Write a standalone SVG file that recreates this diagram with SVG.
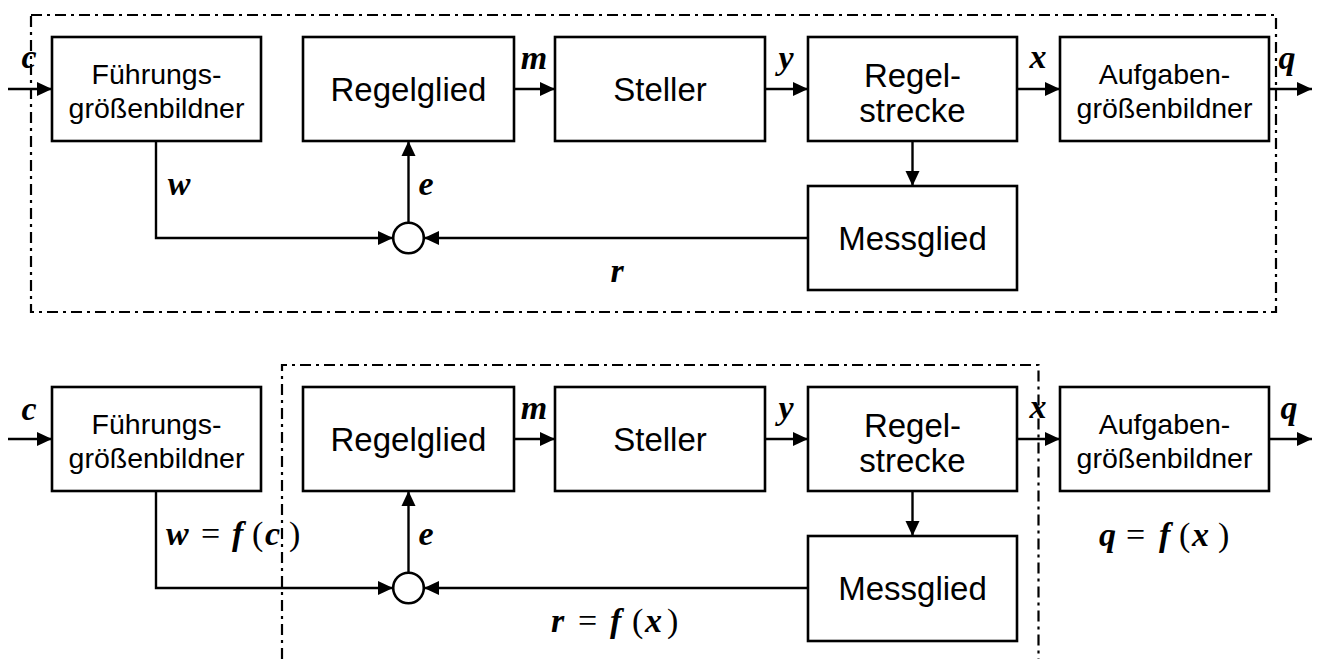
<svg xmlns="http://www.w3.org/2000/svg" width="1318" height="659" viewBox="0 0 1318 659">
<defs>
<style>
.box{fill:#fff;stroke:#000;stroke-width:2.6}
.t{font-family:"Liberation Sans",Arial,sans-serif;fill:#000;text-anchor:middle}
.big{font-size:33px}
.sm{font-size:28.5px}
.ln{fill:none;stroke:#000;stroke-width:2.4}
.arr{marker-end:url(#ah)}
.bd{fill:none;stroke:#000;stroke-width:2.2;stroke-dasharray:11 5 3 5}
.m{font-family:"Liberation Serif","Times New Roman",serif;font-style:italic;font-weight:bold;font-size:34px;fill:#000;text-anchor:middle}
.f{text-anchor:start}
.up{font-style:normal;font-weight:normal}
.sum{fill:#fff;stroke:#000;stroke-width:2.6}
</style>
<marker id="ah" markerUnits="userSpaceOnUse" markerWidth="16" markerHeight="15" refX="15" refY="7" orient="auto" viewBox="0 0 16 14">
<path d="M0,0 L15,7 L0,14 z" fill="#000"/>
</marker>
</defs>
<rect width="1318" height="659" fill="#fff"/>

<g id="borders">
<rect class="bd" x="31" y="15" width="1245" height="297"/>
<path class="bd" d="M282,659 V365 H1038.5 V659"/>
</g>

<g id="connectors">
<path class="ln arr" d="M8,89 H52"/>
<path class="ln arr" d="M514,89 H555"/>
<path class="ln arr" d="M765,89 H808"/>
<path class="ln arr" d="M1017,89 H1060"/>
<path class="ln arr" d="M1269,89 H1312"/>
<path class="ln arr" d="M156,141 V238 H393"/>
<path class="ln arr" d="M408.5,222.7 V141"/>
<path class="ln arr" d="M912.5,141 V186"/>
<path class="ln arr" d="M808,238 H424"/>
<path class="ln arr" d="M8,439 H52"/>
<path class="ln arr" d="M514,439 H555"/>
<path class="ln arr" d="M765,439 H808"/>
<path class="ln arr" d="M1017,439 H1060"/>
<path class="ln arr" d="M1269,439 H1312"/>
<path class="ln arr" d="M156,491 V588 H393"/>
<path class="ln arr" d="M408.5,572.7 V491"/>
<path class="ln arr" d="M912.5,491 V536"/>
<path class="ln arr" d="M808,588 H424"/>
</g>

<g id="labels">
<text class="m" x="29" y="68">c</text>
<text class="m" x="534" y="69">m</text>
<text class="m" x="786" y="69">y</text>
<text class="m" x="1038" y="68">x</text>
<text class="m" x="1287" y="69">q</text>
<text class="m" x="179" y="195">w</text>
<text class="m" x="426" y="195">e</text>
<text class="m" x="617" y="282">r</text>

<text class="m" x="29" y="420">c</text>
<text class="m" x="534" y="419">m</text>
<text class="m" x="786" y="419">y</text>
<text class="m" x="1038" y="418">x</text>
<text class="m" x="1289" y="419">q</text>
<text class="m f" y="545"><tspan x="166">w</tspan><tspan class="up" x="201">=</tspan><tspan x="232">f</tspan><tspan class="up" x="252">(</tspan><tspan x="265">c</tspan><tspan class="up" x="289">)</tspan></text>
<text class="m" x="426" y="545">e</text>
<text class="m f" y="632"><tspan x="551">r</tspan><tspan class="up" x="578">=</tspan><tspan x="610">f</tspan><tspan class="up" x="632">(</tspan><tspan x="645">x</tspan><tspan class="up" x="667">)</tspan></text>
<text class="m f" y="546"><tspan x="1099">q</tspan><tspan class="up" x="1126">=</tspan><tspan x="1159">f</tspan><tspan class="up" x="1179">(</tspan><tspan x="1192">x</tspan><tspan class="up" x="1218">)</tspan></text>
</g>

<g id="fuehrung1"><rect class="box" x="52" y="37" width="209" height="104"/>
<text class="t sm" x="156.5" y="84">Führungs-</text><text class="t sm" x="156.5" y="118">größenbildner</text></g>
<g id="regelglied1"><rect class="box" x="303" y="37" width="211" height="104"/>
<text class="t big" x="408.5" y="101">Regelglied</text></g>
<g id="steller1"><rect class="box" x="555" y="37" width="210" height="104"/>
<text class="t big" x="660" y="101">Steller</text></g>
<g id="regelstrecke1"><rect class="box" x="808" y="37" width="209" height="104"/>
<text class="t big" x="912.5" y="87">Regel-</text><text class="t big" x="912.5" y="122">strecke</text></g>
<g id="aufgaben1"><rect class="box" x="1060" y="37" width="209" height="104"/>
<text class="t sm" x="1164.5" y="84">Aufgaben-</text><text class="t sm" x="1164.5" y="118">größenbildner</text></g>
<g id="messglied1"><rect class="box" x="808" y="186" width="209" height="104"/>
<text class="t big" x="912.5" y="250">Messglied</text></g>
<g id="summe1"><circle class="sum" cx="408.5" cy="238" r="15.3"/></g>

<g id="fuehrung2"><rect class="box" x="52" y="387" width="209" height="104"/>
<text class="t sm" x="156.5" y="434">Führungs-</text><text class="t sm" x="156.5" y="468">größenbildner</text></g>
<g id="regelglied2"><rect class="box" x="303" y="387" width="211" height="104"/>
<text class="t big" x="408.5" y="451">Regelglied</text></g>
<g id="steller2"><rect class="box" x="555" y="387" width="210" height="104"/>
<text class="t big" x="660" y="451">Steller</text></g>
<g id="regelstrecke2"><rect class="box" x="808" y="387" width="209" height="104"/>
<text class="t big" x="912.5" y="437">Regel-</text><text class="t big" x="912.5" y="472">strecke</text></g>
<g id="aufgaben2"><rect class="box" x="1060" y="387" width="209" height="104"/>
<text class="t sm" x="1164.5" y="434">Aufgaben-</text><text class="t sm" x="1164.5" y="468">größenbildner</text></g>
<g id="messglied2"><rect class="box" x="808" y="536" width="209" height="105"/>
<text class="t big" x="912.5" y="600">Messglied</text></g>
<g id="summe2"><circle class="sum" cx="408.5" cy="588" r="15.3"/></g>
</svg>
